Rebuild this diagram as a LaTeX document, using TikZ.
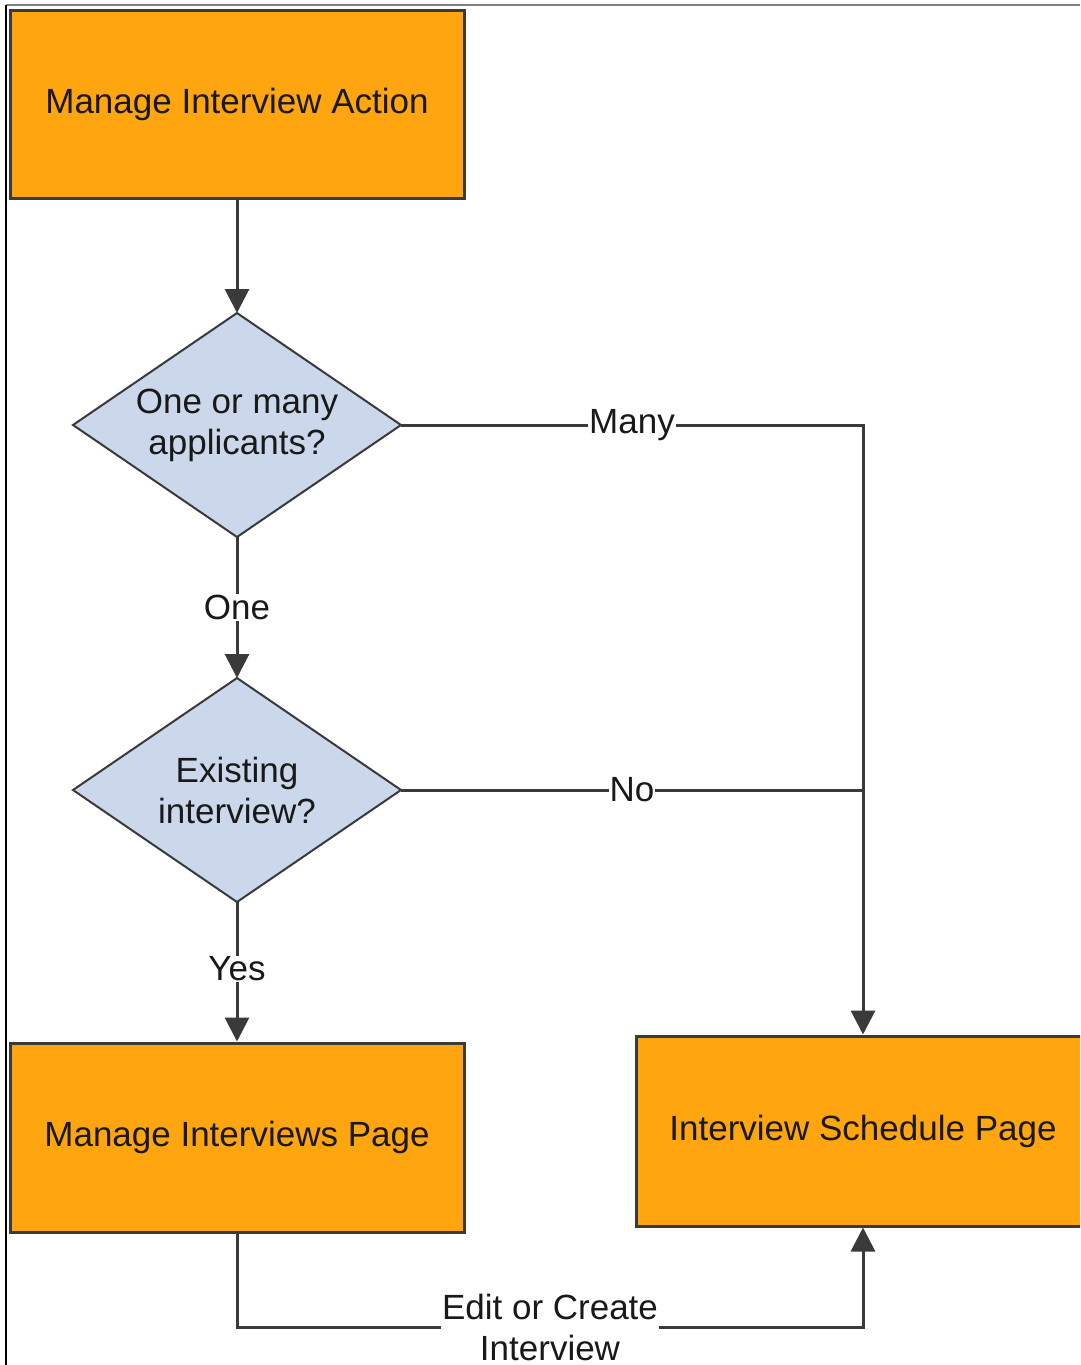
\documentclass[tikz,border=0pt]{standalone}
\usepackage{fontspec}
\setmainfont{Liberation Sans}
\usetikzlibrary{shapes.geometric,arrows.meta,calc}
\definecolor{boxorange}{RGB}{255,165,16}
\definecolor{diablue}{RGB}{203,216,235}
\definecolor{linegray}{RGB}{58,58,58}
\begin{document}
\begin{tikzpicture}[x=1pt,y=-1pt,
  every node/.style={font=\fontsize{35}{41}\selectfont, text=black!90},
  pagebox/.style={draw=linegray, line width=3pt, fill=boxorange, inner sep=0pt},
  decision/.style={draw=linegray, line width=2pt, fill=diablue, shape=diamond, aspect=1.46, inner sep=0pt, outer sep=0pt, minimum width=328pt, minimum height=224pt, align=center},
  conn/.style={draw=linegray, line width=3pt},
  arr/.style={conn, -{Triangle[width=24pt,length=24pt]}},
  lbl/.style={fill=white, inner sep=1pt, align=center}]
\useasboundingbox (0,0) rectangle (1080,1365);
\clip (0,0) rectangle (1080,1365);
\fill[white] (0,0) rectangle (1080,1365);
% frame lines
\draw[gray, line width=1.5pt] (6,5) -- (1080,5);
\draw[black, line width=1.5pt] (6,5) -- (6,1365);
% nodes
\node[pagebox, minimum width=454pt, minimum height=188pt] (b1) at (237,104) {Manage Interview Action};
\node[decision] (d1) at (237,425) {One or many\\applicants?};
\node[decision] (d2) at (237,790) {Existing\\interview?};
\node[pagebox, minimum width=454pt, minimum height=189pt] (b2) at (237,1137.5) {Manage Interviews Page};
\node[pagebox, minimum width=454pt, minimum height=190pt] (b3) at (863,1131) {Interview Schedule Page};
\coordinate (c1) at (237,1327);
% connectors
\draw[arr] (b1.south) -- (d1.north);
\draw[arr] (d1.south) -- node[lbl, pos=0.5]{One} (d2.north);
\draw[arr] (d2.south) -- node[lbl, pos=0.48]{Yes} (b2.north);
\draw[arr] (d1.east) -- node[lbl]{Many} (d1.east -| b3.north) -- (b3.north);
\draw[conn] (d2.east) -- node[lbl]{No} (d2.east -| b3.north);
\draw[arr] (b2.south) |- node[lbl, pos=0.75]{Edit or Create\\Interview} (c1 -| b3.south) -- (b3.south);
\end{tikzpicture}
\end{document}
